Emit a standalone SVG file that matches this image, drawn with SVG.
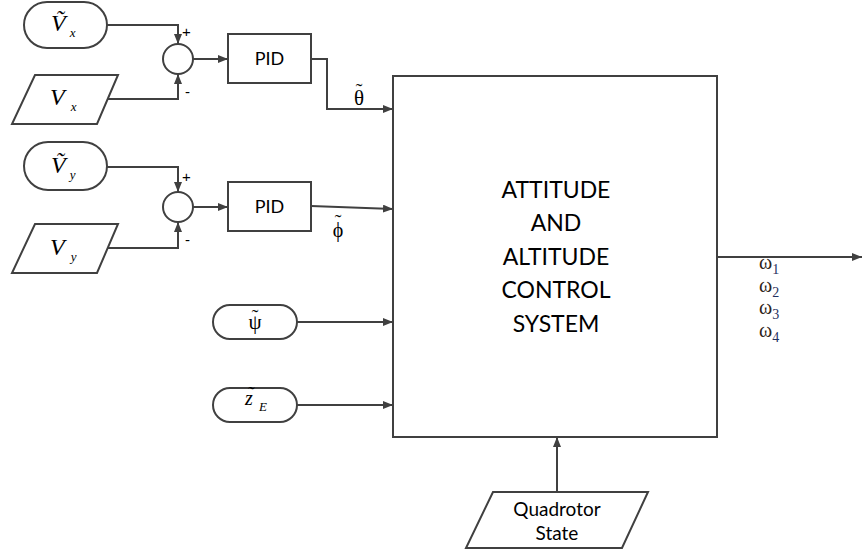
<svg xmlns="http://www.w3.org/2000/svg" width="862" height="556" viewBox="0 0 862 556">
<style>
.s{fill:#fff;stroke:#404040;stroke-width:2}
.c{fill:none;stroke:#404040;stroke-width:2}
.m{font-family:"Liberation Serif",serif;fill:#000;text-anchor:middle}
.mi{font-family:"Liberation Serif",serif;font-style:italic;fill:#000}
.t{font-family:Lato,"Open Sans",sans-serif;fill:#000;text-anchor:middle}
.w{font-family:"Liberation Serif",serif;fill:#2e2418;font-size:20px}
.ws{fill:#1f3060;font-size:14px}
.pm{font-family:"Liberation Sans",sans-serif;font-size:15px;fill:#000}
</style>
<defs>
<marker id="a" markerWidth="10" markerHeight="8" refX="10" refY="4" orient="auto" markerUnits="userSpaceOnUse">
<path d="M0,0 L10,4 L0,8 Z" fill="#404040"/>
</marker>
</defs>
<rect width="862" height="556" fill="#fff"/>
<g id="connectors">
<path class="c" d="M107,25 H178 V44" marker-end="url(#a)"/>
<path class="c" d="M108,99 H178 V74" marker-end="url(#a)"/>
<path class="c" d="M193,59 H228" marker-end="url(#a)"/>
<path class="c" d="M311,59 H327 V109 H393" marker-end="url(#a)"/>
<path class="c" d="M107,167 H178 V192" marker-end="url(#a)"/>
<path class="c" d="M108,248 H178 V222" marker-end="url(#a)"/>
<path class="c" d="M193,207 H228" marker-end="url(#a)"/>
<path class="c" d="M311,206 L393,209" marker-end="url(#a)"/>
<path class="c" d="M297,322 H393" marker-end="url(#a)"/>
<path class="c" d="M297,405 H393" marker-end="url(#a)"/>
<path class="c" d="M557,492 V437" marker-end="url(#a)"/>
<path class="c" d="M717,257 H862" marker-end="url(#a)"/>
<text class="pm" x="182" y="37">+</text>
<text class="pm" x="185" y="97">-</text>
<text class="pm" x="182" y="182">+</text>
<text class="pm" x="185" y="245">-</text>
<text class="m" x="359" y="105" font-size="21">θ<tspan x="359" y="98" font-size="20">˜</tspan></text>
<text class="m" x="338" y="237" font-size="20">ϕ<tspan x="338" y="229">˜</tspan></text>
<text class="w" x="759" y="269">ω<tspan class="ws" dy="5">1</tspan></text>
<text class="w" x="759" y="292">ω<tspan class="ws" dy="5">2</tspan></text>
<text class="w" x="759" y="314">ω<tspan class="ws" dy="5">3</tspan></text>
<text class="w" x="759" y="337">ω<tspan class="ws" dy="5">4</tspan></text>
</g>
<g id="vx_ref">
<rect class="s" x="24" y="2" width="83" height="46" rx="23"/>
<text class="mi" x="51" y="31" font-size="24">Ṽ<tspan font-size="13" dx="4" dy="6">x</tspan></text>
</g>
<g id="vx">
<polygon class="s" points="35,75 118,75 97,124 12,124"/>
<text class="mi" x="50" y="105" font-size="24">V<tspan font-size="13" dx="6" dy="6">x</tspan></text>
</g>
<g id="sum1"><circle class="s" cx="178" cy="59" r="15"/></g>
<g id="pid1">
<rect class="s" x="228" y="34" width="83" height="49"/>
<text class="t" x="269.5" y="65" font-size="18">PID</text>
</g>
<g id="vy_ref">
<rect class="s" x="24" y="142" width="83" height="48" rx="24"/>
<text class="mi" x="51" y="173" font-size="24">Ṽ<tspan font-size="13" dx="4" dy="6">y</tspan></text>
</g>
<g id="vy">
<polygon class="s" points="35,224 118,224 97,273 12,273"/>
<text class="mi" x="50" y="255" font-size="24">V<tspan font-size="13" dx="6" dy="6">y</tspan></text>
</g>
<g id="sum2"><circle class="s" cx="178" cy="207" r="15"/></g>
<g id="pid2">
<rect class="s" x="228" y="182" width="83" height="49"/>
<text class="t" x="269.5" y="213" font-size="18">PID</text>
</g>
<g id="psi">
<rect class="s" x="213" y="305" width="84" height="34" rx="17"/>
<text class="m" x="255" y="329" font-size="21">ψ<tspan x="255" y="324" font-size="20">˜</tspan></text>
</g>
<g id="ze">
<rect class="s" x="213" y="388" width="84" height="34" rx="17"/>
<text class="mi" x="249" y="405" font-size="20" text-anchor="middle">z<tspan x="250" y="401">˜</tspan><tspan x="263" y="411" font-size="13">E</tspan></text>
</g>
<g id="system">
<rect class="s" x="393" y="76" width="324" height="361"/>
<text class="t" x="556" y="198" font-size="23">ATTITUDE</text>
<text class="t" x="556" y="231" font-size="23">AND</text>
<text class="t" x="556" y="265" font-size="23">ALTITUDE</text>
<text class="t" x="556" y="298" font-size="23">CONTROL</text>
<text class="t" x="556" y="332" font-size="23">SYSTEM</text>
</g>
<g id="state">
<polygon class="s" points="493,492 648,492 622,548 466,548"/>
<text class="t" x="557" y="516" font-size="19">Quadrotor</text>
<text class="t" x="557" y="540" font-size="19">State</text>
</g>
</svg>
